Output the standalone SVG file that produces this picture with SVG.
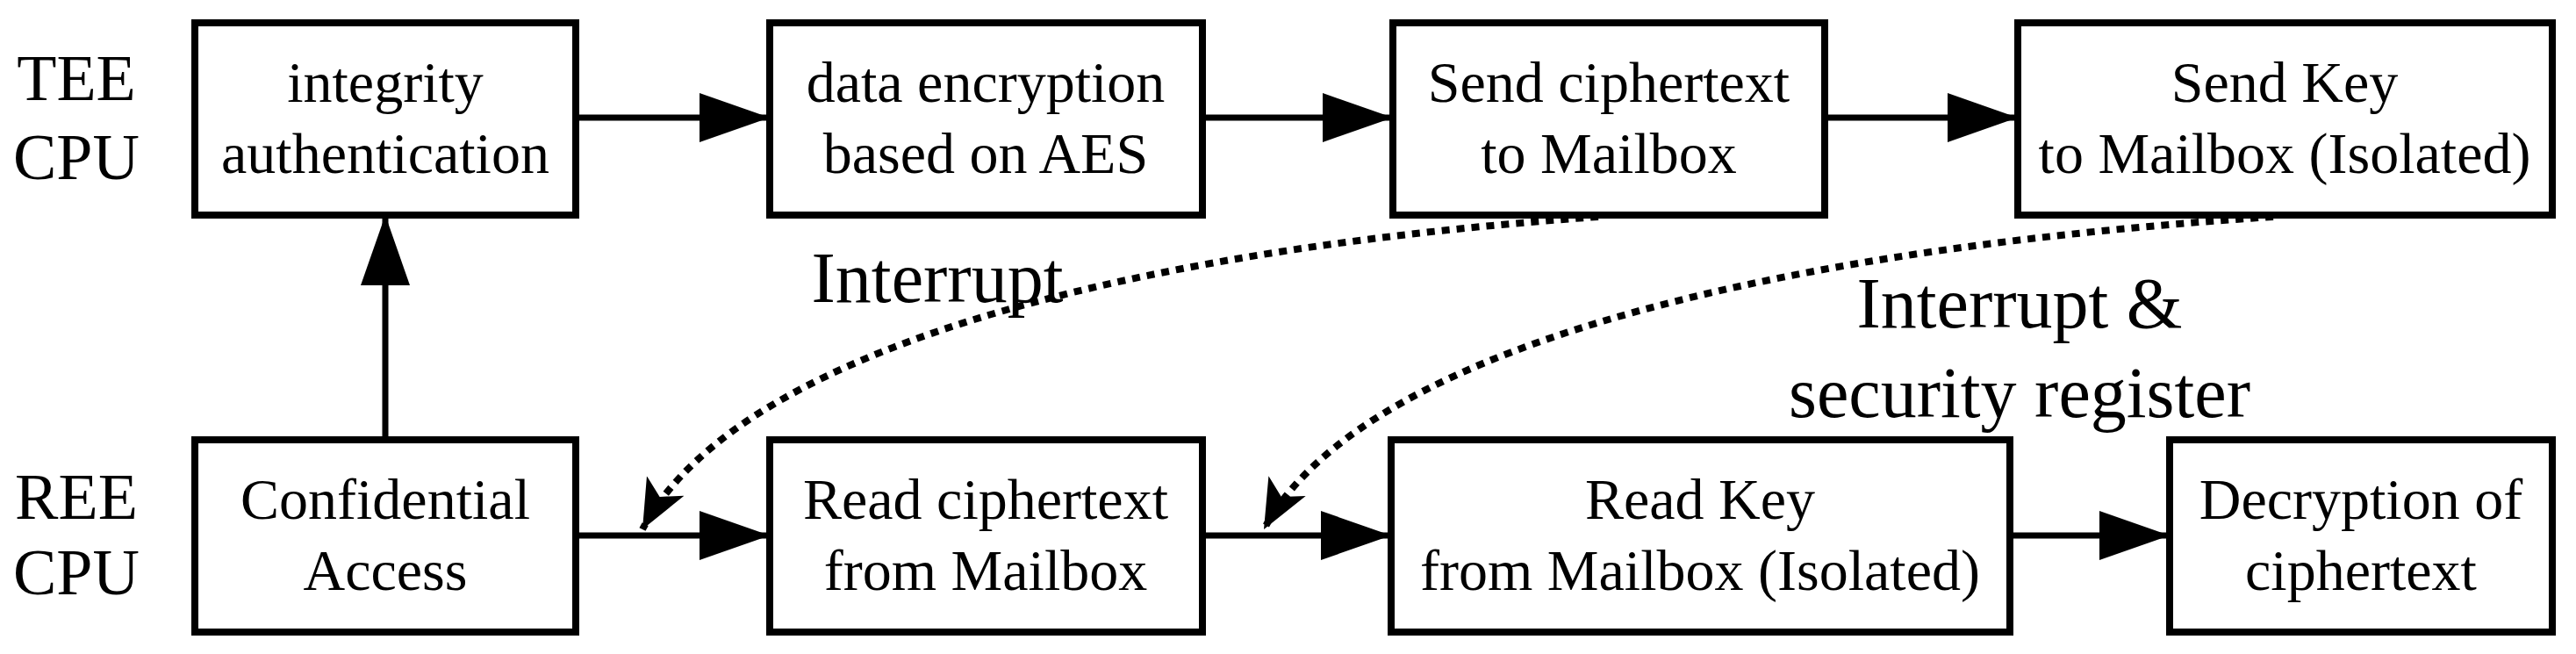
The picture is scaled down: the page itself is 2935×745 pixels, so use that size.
<svg xmlns="http://www.w3.org/2000/svg" width="2935" height="745" viewBox="0 0 2935 745">
<style>
text{font-family:"Liberation Serif","Times New Roman",serif;fill:#000;text-anchor:middle}
.b{font-size:66px}
.l{font-size:74px}
.i{font-size:82px}
rect{fill:#fff;stroke:#000;stroke-width:8}
.c{stroke:#000;stroke-width:7;fill:none}
.d{stroke:#000;stroke-width:8;fill:none;stroke-dasharray:9 8}
</style>
<defs>
<marker id="a" markerUnits="userSpaceOnUse" markerWidth="90" markerHeight="70" refX="80" refY="28" orient="auto"><path d="M0,0 L80,28 L0,56 Z" fill="#000"/></marker>
<marker id="da" markerUnits="userSpaceOnUse" markerWidth="80" markerHeight="70" refX="56" refY="30" orient="auto"><path d="M0,6 L56,30 L0,54 L14,30 Z" fill="#000"/></marker>
</defs>
<text class="l" x="87" y="114">TEE</text>
<text class="l" x="87" y="204">CPU</text>
<text class="l" x="87" y="591">REE</text>
<text class="l" x="87" y="677">CPU</text>
<g id="connectors">
<path class="c" d="M656,134 H877" marker-end="url(#a)"/>
<path class="c" d="M1370,134 H1587" marker-end="url(#a)"/>
<path class="c" d="M2079,134 H2299" marker-end="url(#a)"/>
<path class="c" d="M439,501 V245" marker-end="url(#a)"/>
<path class="c" d="M656,610 H877" marker-end="url(#a)"/>
<path class="c" d="M1370,610 H1585" marker-end="url(#a)"/>
<path class="c" d="M2290,610 H2472" marker-end="url(#a)"/>
<path class="d" d="M1821,247 C1350,280 850,380 732,603" marker-end="url(#da)"/>
<path class="d" d="M2590,247 C2080,280 1560,380 1440,603" marker-end="url(#da)"/>
</g>
<text class="i" x="1068" y="344">Interrupt</text>
<text class="i" x="2301" y="373">Interrupt &amp;</text>
<text class="i" x="2301" y="475">security register</text>
<g id="n1"><rect x="222" y="26" width="434" height="219"/><text class="b" x="439" y="116">integrity</text><text class="b" x="439" y="197">authentication</text></g>
<g id="n2"><rect x="877" y="26" width="493" height="219"/><text class="b" x="1123" y="116">data encryption</text><text class="b" x="1123" y="197">based on AES</text></g>
<g id="n3"><rect x="1587" y="26" width="492" height="219"/><text class="b" x="1833" y="116">Send ciphertext</text><text class="b" x="1833" y="197">to Mailbox</text></g>
<g id="n4"><rect x="2299" y="26" width="609" height="219"/><text class="b" x="2603" y="116">Send Key</text><text class="b" x="2603" y="197">to Mailbox (Isolated)</text></g>
<g id="n5"><rect x="222" y="501" width="434" height="219"/><text class="b" x="439" y="591">Confidential</text><text class="b" x="439" y="672">Access</text></g>
<g id="n6"><rect x="877" y="501" width="493" height="219"/><text class="b" x="1123" y="591">Read ciphertext</text><text class="b" x="1123" y="672">from Mailbox</text></g>
<g id="n7"><rect x="1585" y="501" width="705" height="219"/><text class="b" x="1937" y="591">Read Key</text><text class="b" x="1937" y="672">from Mailbox (Isolated)</text></g>
<g id="n8"><rect x="2472" y="501" width="436" height="219"/><text class="b" x="2690" y="591">Decryption of</text><text class="b" x="2690" y="672">ciphertext</text></g>
</svg>
